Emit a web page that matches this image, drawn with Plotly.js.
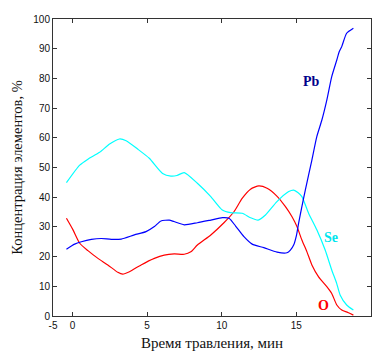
<!DOCTYPE html>
<html>
<head>
<meta charset="utf-8">
<script src="https://cdn.plot.ly/plotly-3.0.1.min.js"></script>
<style>html,body{margin:0;padding:0;background:#fff;}#chart{width:372px;height:352px;}</style>
</head>
<body>
<div id="chart"></div>
<script>
// Se (cyan)
const seX = [-0.4,0.49,1.04,1.82,2.49,3.15,3.6,4.37,5.15,6.04,6.6,7.0,7.49,8.37,9.27,10.04,10.6,11.37,11.93,12.44,12.93,13.7,14.49,14.82,15.1,15.37,15.82,16.37,16.93,17.37,17.7,17.93,18.37,18.82];
const seY = [44.9,50.8,52.8,55.1,57.9,59.6,59.0,56.2,53.1,48.0,47.1,47.3,48.3,44.7,40.2,35.7,34.8,34.6,33.1,32.3,34.0,38.5,41.9,42.4,41.6,40.2,34.6,29.0,22.2,15.5,11.0,7.1,3.7,2.0];
// Pb (blue)
const pbX = [-0.4,0.15,0.6,1.27,1.93,2.6,3.27,4.15,4.93,5.49,5.93,6.49,6.8,7.49,8.37,9.27,10.04,10.49,10.93,11.49,12.04,12.82,13.71,14.37,14.6,14.82,15.0,15.15,15.37,15.6,16.04,16.37,16.71,17.04,17.37,17.71,17.87,18.04,18.37,18.82];
const pbY = [22.5,24.2,25.0,25.8,26.1,25.8,25.9,27.3,28.4,30.1,32.0,32.3,31.8,30.7,31.4,32.3,33.1,32.9,30.3,26.7,24.2,23.0,21.5,21.3,22.2,23.9,27.0,31.2,36.8,42.4,52.5,60.4,66.0,72.7,80.6,86.2,89.0,90.7,95.2,96.9];
// O (red)
const oX = [-0.4,0.04,0.49,1.04,1.71,2.37,3.04,3.37,3.82,4.6,5.49,6.15,6.82,7.49,7.93,8.37,9.27,10.15,10.82,11.37,11.93,12.49,13.04,13.71,14.27,14.71,15.04,15.37,15.71,16.04,16.49,17.04,17.37,17.71,18.04,18.49,18.82];
const oY = [32.9,29.0,24.5,22.0,19.4,17.2,14.7,14.1,14.9,17.2,19.4,20.5,20.9,20.8,21.6,23.9,27.3,31.4,35.1,39.6,42.7,43.8,43.0,40.3,36.8,33.4,30.1,25.6,21.6,17.2,13.2,9.9,7.6,3.7,2.0,1.1,0.3];

const xTickVals = [-1.3,0,5,10,15,20];
const xTickText = ['-5','0','5','10','15','20'];
const yTickVals = [0,10,20,30,40,50,60,70,80,90,100];

const lineW = 1.2;
const traces = [
  {x: oX, y: oY, mode: 'lines', line: {color: '#ff0000', width: lineW, shape: 'spline', smoothing: 0.6}, name: 'O'},
  {x: seX, y: seY, mode: 'lines', line: {color: '#00ffff', width: lineW, shape: 'spline', smoothing: 0.6}, name: 'Se'},
  {x: pbX, y: pbY, mode: 'lines', line: {color: '#0000ff', width: lineW, shape: 'spline', smoothing: 0.6}, name: 'Pb'}
];

const axisCommon = {
  showgrid: false, zeroline: false, showline: true, mirror: 'allticks',
  linecolor: '#333333', linewidth: 1, ticks: 'inside', ticklen: 4, tickcolor: '#333333',
  tickfont: {family: 'Liberation Sans, Arial, sans-serif', size: 10, color: '#111'}
};

const layout = {
  width: 372, height: 352,
  margin: {l: 53, r: 1, t: 19, b: 36},
  paper_bgcolor: '#fff', plot_bgcolor: '#fff',
  showlegend: false,
  xaxis: Object.assign({}, axisCommon, {
    range: [-1.3, 20], tickvals: xTickVals, ticktext: xTickText,
    title: {text: 'Время травления, мин', font: {family: 'Liberation Serif, Times New Roman, serif', size: 15, color: '#111'}, standoff: 7}
  }),
  yaxis: Object.assign({}, axisCommon, {
    range: [0, 100], tickvals: yTickVals,
    title: {text: 'Концентрация элементов, %', font: {family: 'Liberation Serif, Times New Roman, serif', size: 14.5, color: '#111'}, standoff: 7}
  }),
  annotations: [
    {x: 16.0, y: 78.8, text: '<b>Pb</b>', showarrow: false, font: {family: 'Liberation Serif, serif', size: 14, color: '#00008b'}},
    {x: 17.3, y: 26.3, text: '<b>Se</b>', showarrow: false, font: {family: 'Liberation Serif, serif', size: 14, color: '#00e5ee'}},
    {x: 16.8, y: 3.7, text: '<b>O</b>', showarrow: false, font: {family: 'Liberation Serif, serif', size: 14, color: '#ff0000'}}
  ]
};

Plotly.newPlot('chart', traces, layout, {staticPlot: true, displayModeBar: false});
</script>
</body>
</html>
